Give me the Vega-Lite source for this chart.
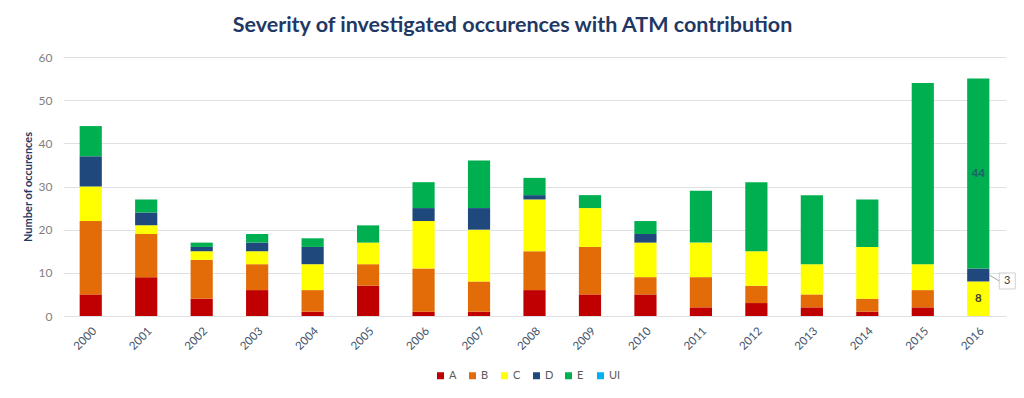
{
  "$schema": "https://vega.github.io/schema/vega-lite/v6.json",
  "width": 943,
  "height": 259,
  "autosize": {"type": "none"},
  "padding": {"left": 63, "top": 57, "right": 18, "bottom": 82},
  "background": "white",
  "title": {"text": "Severity of investigated occurences with ATM contribution", "font": "Lato", "fontSize": 21.5, "fontWeight": "bold", "color": "#1F3864", "anchor": "middle", "dx": -22, "offset": 15},
  "config": {"view": {"stroke": null}, "font": "Lato"},
  "data": {"values": [
    {"year": "2000", "sev": "A", "n": 5}, {"year": "2000", "sev": "B", "n": 17}, {"year": "2000", "sev": "C", "n": 8}, {"year": "2000", "sev": "D", "n": 7}, {"year": "2000", "sev": "E", "n": 7},
    {"year": "2001", "sev": "A", "n": 9}, {"year": "2001", "sev": "B", "n": 10}, {"year": "2001", "sev": "C", "n": 2}, {"year": "2001", "sev": "D", "n": 3}, {"year": "2001", "sev": "E", "n": 3},
    {"year": "2002", "sev": "A", "n": 4}, {"year": "2002", "sev": "B", "n": 9}, {"year": "2002", "sev": "C", "n": 2}, {"year": "2002", "sev": "D", "n": 1}, {"year": "2002", "sev": "E", "n": 1},
    {"year": "2003", "sev": "A", "n": 6}, {"year": "2003", "sev": "B", "n": 6}, {"year": "2003", "sev": "C", "n": 3}, {"year": "2003", "sev": "D", "n": 2}, {"year": "2003", "sev": "E", "n": 2},
    {"year": "2004", "sev": "A", "n": 1}, {"year": "2004", "sev": "B", "n": 5}, {"year": "2004", "sev": "C", "n": 6}, {"year": "2004", "sev": "D", "n": 4}, {"year": "2004", "sev": "E", "n": 2},
    {"year": "2005", "sev": "A", "n": 7}, {"year": "2005", "sev": "B", "n": 5}, {"year": "2005", "sev": "C", "n": 5}, {"year": "2005", "sev": "E", "n": 4},
    {"year": "2006", "sev": "A", "n": 1}, {"year": "2006", "sev": "B", "n": 10}, {"year": "2006", "sev": "C", "n": 11}, {"year": "2006", "sev": "D", "n": 3}, {"year": "2006", "sev": "E", "n": 6},
    {"year": "2007", "sev": "A", "n": 1}, {"year": "2007", "sev": "B", "n": 7}, {"year": "2007", "sev": "C", "n": 12}, {"year": "2007", "sev": "D", "n": 5}, {"year": "2007", "sev": "E", "n": 11},
    {"year": "2008", "sev": "A", "n": 6}, {"year": "2008", "sev": "B", "n": 9}, {"year": "2008", "sev": "C", "n": 12}, {"year": "2008", "sev": "D", "n": 1}, {"year": "2008", "sev": "E", "n": 4},
    {"year": "2009", "sev": "A", "n": 5}, {"year": "2009", "sev": "B", "n": 11}, {"year": "2009", "sev": "C", "n": 9}, {"year": "2009", "sev": "E", "n": 3},
    {"year": "2010", "sev": "A", "n": 5}, {"year": "2010", "sev": "B", "n": 4}, {"year": "2010", "sev": "C", "n": 8}, {"year": "2010", "sev": "D", "n": 2}, {"year": "2010", "sev": "E", "n": 3},
    {"year": "2011", "sev": "A", "n": 2}, {"year": "2011", "sev": "B", "n": 7}, {"year": "2011", "sev": "C", "n": 8}, {"year": "2011", "sev": "E", "n": 12},
    {"year": "2012", "sev": "A", "n": 3}, {"year": "2012", "sev": "B", "n": 4}, {"year": "2012", "sev": "C", "n": 8}, {"year": "2012", "sev": "E", "n": 16},
    {"year": "2013", "sev": "A", "n": 2}, {"year": "2013", "sev": "B", "n": 3}, {"year": "2013", "sev": "C", "n": 7}, {"year": "2013", "sev": "E", "n": 16},
    {"year": "2014", "sev": "A", "n": 1}, {"year": "2014", "sev": "B", "n": 3}, {"year": "2014", "sev": "C", "n": 12}, {"year": "2014", "sev": "E", "n": 11},
    {"year": "2015", "sev": "A", "n": 2}, {"year": "2015", "sev": "B", "n": 4}, {"year": "2015", "sev": "C", "n": 6}, {"year": "2015", "sev": "E", "n": 42},
    {"year": "2016", "sev": "C", "n": 8}, {"year": "2016", "sev": "D", "n": 3}, {"year": "2016", "sev": "E", "n": 44}
  ]},
  "layer": [
    {
      "mark": {"type": "bar"},
      "encoding": {
        "x": {"field": "year", "type": "ordinal", "scale": {"paddingInner": 0.6, "paddingOuter": 0.3},
          "axis": {"title": null, "labelAngle": -45, "labelColor": "#44546A", "labelFontSize": 11.5, "ticks": false, "domain": false, "labelPadding": 9}},
        "y": {"field": "n", "type": "quantitative", "stack": "zero", "scale": {"domain": [0, 60]},
          "axis": {"title": "Number of occurences", "titleFontSize": 11, "titleFontWeight": "bold", "titleColor": "#1F3864", "titlePadding": 5,
            "values": [0, 10, 20, 30, 40, 50, 60], "labelColor": "#808080", "labelFontSize": 12, "labelPadding": 11, "ticks": false, "domain": false, "gridColor": "#DDE1E6"}},
        "color": {"field": "sev", "type": "nominal",
          "scale": {"domain": ["A", "B", "C", "D", "E", "UI"], "range": ["#C00000", "#E36C09", "#FFFF00", "#1F497D", "#00B050", "#00B0F0"]},
          "legend": {"title": null, "orient": "none", "legendX": 372, "legendY": 313, "direction": "horizontal", "columns": 6, "gridAlign": "all",
            "symbolType": "square", "symbolSize": 49, "symbolStrokeWidth": 0, "labelFontSize": 11, "labelColor": "#595959", "labelOffset": 3, "columnPadding": 6}},
        "order": {"field": "sev", "sort": "ascending"}
      }
    },
    {
      "transform": [
        {"stack": "n", "groupby": ["year"], "sort": [{"field": "sev", "order": "ascending"}], "as": ["y0", "y1"]},
        {"calculate": "(datum.y0 + datum.y1) / 2", "as": "mid"},
        {"filter": "datum.year == '2016' && (datum.sev == 'C' || datum.sev == 'E')"}
      ],
      "mark": {"type": "text", "fontSize": 11.5, "fontWeight": "bold"},
      "encoding": {
        "x": {"field": "year", "type": "ordinal"},
        "y": {"field": "mid", "type": "quantitative"},
        "text": {"field": "n"},
        "color": {"condition": {"test": "datum.sev == 'E'", "value": "#1F5F6A"}, "value": "#404040"}
      }
    },
    {
      "transform": [
        {"stack": "n", "groupby": ["year"], "sort": [{"field": "sev", "order": "ascending"}], "as": ["y0", "y1"]},
        {"calculate": "(datum.y0 + datum.y1) / 2", "as": "mid"},
        {"filter": "datum.year == '2016' && datum.sev == 'D'"}
      ],
      "mark": {"type": "rule", "color": "#A6A6A6", "strokeWidth": 1, "xOffset": 11, "x2Offset": 21, "y2Offset": 6},
      "encoding": {
        "x": {"field": "year", "type": "ordinal"},
        "x2": {"field": "year"},
        "y": {"field": "mid", "type": "quantitative"},
        "y2": {"field": "mid"}
      }
    },
    {
      "transform": [
        {"stack": "n", "groupby": ["year"], "sort": [{"field": "sev", "order": "ascending"}], "as": ["y0", "y1"]},
        {"calculate": "(datum.y0 + datum.y1) / 2", "as": "mid"},
        {"filter": "datum.year == '2016' && datum.sev == 'D'"}
      ],
      "mark": {"type": "point", "shape": "square", "size": 256, "filled": true, "fill": "white", "stroke": "#BFBFBF", "strokeWidth": 1, "xOffset": 29, "yOffset": 6},
      "encoding": {
        "x": {"field": "year", "type": "ordinal"},
        "y": {"field": "mid", "type": "quantitative"}
      }
    },
    {
      "transform": [
        {"stack": "n", "groupby": ["year"], "sort": [{"field": "sev", "order": "ascending"}], "as": ["y0", "y1"]},
        {"calculate": "(datum.y0 + datum.y1) / 2", "as": "mid"},
        {"filter": "datum.year == '2016' && datum.sev == 'D'"}
      ],
      "mark": {"type": "text", "fontSize": 11, "color": "#404040", "xOffset": 29, "yOffset": 6},
      "encoding": {
        "x": {"field": "year", "type": "ordinal"},
        "y": {"field": "mid", "type": "quantitative"},
        "text": {"field": "n"}
      }
    }
  ]
}
